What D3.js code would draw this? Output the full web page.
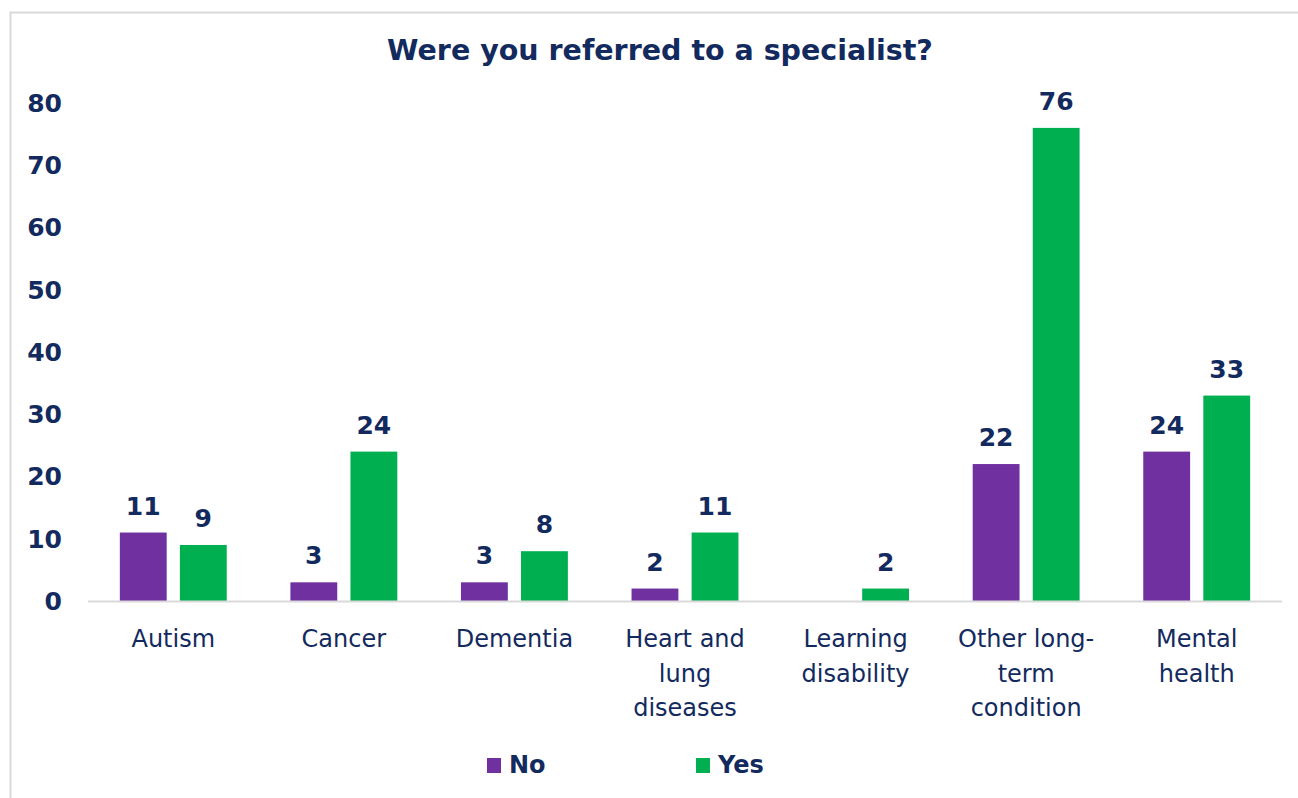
<!DOCTYPE html>
<html>
<head>
<meta charset="utf-8">
<script src="https://cdn.jsdelivr.net/npm/d3@7"></script>
<style>
body { margin: 0; background: #fff; }
svg text { font-family: "DejaVu Sans", sans-serif; fill: #132a5e; }
</style>
</head>
<body>
<svg width="1298" height="798"></svg>
<script>
var categories = [["Autism"], ["Cancer"], ["Dementia"], ["Heart and", "lung", "diseases"],
  ["Learning", "disability"], ["Other long-", "term", "condition"], ["Mental", "health"]];
var seriesNames = ["No", "Yes"];
var noValues = [11, 3, 3, 2, null, 22, 24];
var yesValues = [9, 24, 8, 11, 2, 76, 33];
var yTicks = [0, 10, 20, 30, 40, 50, 60, 70, 80];
var colors = ["#7030a0", "#00b050"];

var svg = d3.select("svg");

// chart border, runs off the right and bottom edges
svg.append("rect")
    .attr("x", 10.5).attr("y", 12.5)
    .attr("width", 1400).attr("height", 900)
    .attr("fill", "none").attr("stroke", "#d9d9d9").attr("stroke-width", 2);

svg.append("text")
    .attr("x", 660).attr("y", 60)
    .attr("text-anchor", "middle")
    .style("font-size", "28.5px").style("font-weight", "bold")
    .text("Were you referred to a specialist?");

var plotLeft = 88, plotRight = 1282, plotTop = 103, plotBottom = 601;

var x0 = d3.scaleBand()
    .domain(d3.range(categories.length))
    .range([plotLeft, plotRight]);

var x1 = d3.scaleBand()
    .domain(seriesNames)
    .range([0, x0.bandwidth()])
    .paddingInner(0.22)
    .paddingOuter(0.53);

var y = d3.scaleLinear().domain([0, 80]).range([plotBottom, plotTop]);

// y axis labels
svg.append("g").selectAll("text")
    .data(yTicks)
  .enter().append("text")
    .attr("x", 62)
    .attr("y", function(d) { return y(d); })
    .attr("dy", "0.35em")
    .attr("text-anchor", "end")
    .style("font-size", "25px").style("font-weight", "bold")
    .text(function(d) { return d; });

var rows = categories.map(function(c, i) {
  return { i: i, vals: [noValues[i], yesValues[i]] };
});

var groups = svg.append("g").selectAll("g")
    .data(rows)
  .enter().append("g")
    .attr("transform", function(d) { return "translate(" + x0(d.i) + ",0)"; });

var bars = groups.selectAll("g")
    .data(function(d) {
      return d.vals.map(function(v, k) { return { key: seriesNames[k], k: k, v: v }; })
        .filter(function(e) { return e.v != null; });
    })
  .enter().append("g");

bars.append("rect")
    .attr("x", function(d) { return x1(d.key); })
    .attr("y", function(d) { return y(d.v); })
    .attr("width", x1.bandwidth())
    .attr("height", function(d) { return y(0) - y(d.v); })
    .attr("fill", function(d) { return colors[d.k]; });

bars.append("text")
    .attr("x", function(d) { return x1(d.key) + x1.bandwidth() / 2; })
    .attr("y", function(d) { return y(d.v) - 18; })
    .attr("text-anchor", "middle")
    .style("font-size", "25px").style("font-weight", "bold")
    .text(function(d) { return d.v; });

// x axis line
svg.append("line")
    .attr("x1", plotLeft).attr("x2", plotRight)
    .attr("y1", plotBottom + 0.5).attr("y2", plotBottom + 0.5)
    .attr("stroke", "#d9d9d9").attr("stroke-width", 2);

// category labels
svg.append("g").selectAll("text")
    .data(categories)
  .enter().append("text")
    .attr("x", function(d, i) { return x0(i) + x0.bandwidth() / 2; })
    .attr("y", 647)
    .attr("text-anchor", "middle")
    .style("font-size", "24px")
    .each(function(d) {
      var t = d3.select(this);
      d.forEach(function(line, j) {
        t.append("tspan")
          .attr("x", t.attr("x"))
          .attr("dy", j === 0 ? 0 : 34.5)
          .text(line);
      });
    });

// legend
var legendX = [487, 696];
var legend = svg.append("g").selectAll("g")
    .data(seriesNames)
  .enter().append("g")
    .attr("transform", function(d, i) { return "translate(" + legendX[i] + ",758)"; });

legend.append("rect")
    .attr("width", 14).attr("height", 15)
    .attr("fill", function(d, i) { return colors[i]; });

legend.append("text")
    .attr("x", 22).attr("y", 15)
    .style("font-size", "24px").style("font-weight", "bold")
    .text(function(d) { return d; });
</script>
</body>
</html>
